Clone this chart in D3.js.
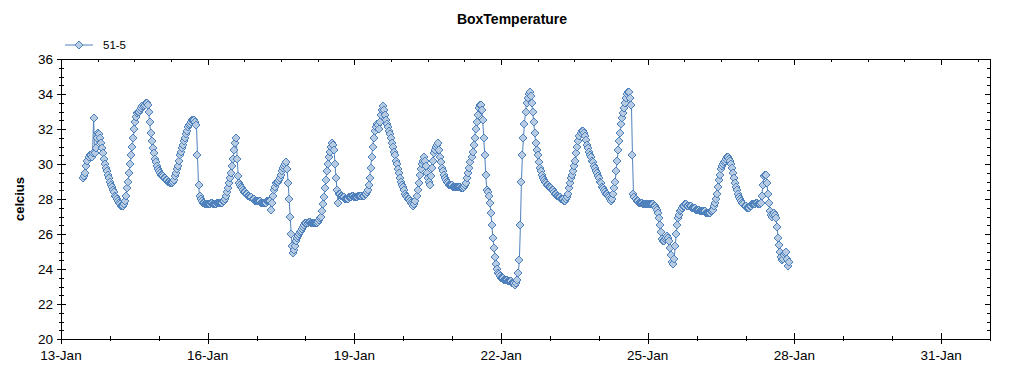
<!DOCTYPE html>
<html>
<head>
<meta charset="utf-8">
<script src="https://cdn.jsdelivr.net/npm/d3@7"></script>
<style>
  body { margin: 0; background: #fff; }
  text { font-family: "Liberation Sans", Arial, sans-serif; }
</style>
</head>
<body>
<div id="chart-area"></div>
<script>
// Half-hourly readings of sensor 51-5, one array per day (°C)
// jan13 starts at 11:00, all others at 00:00
const seriesName = "51-5";
const dayStarts = ["2011-01-13T11:00", "2011-01-14T00:00", "2011-01-15T00:00", "2011-01-16T00:00",
  "2011-01-17T00:00", "2011-01-18T00:00", "2011-01-19T00:00", "2011-01-20T00:00", "2011-01-21T00:00",
  "2011-01-22T00:00", "2011-01-23T00:00", "2011-01-24T00:00", "2011-01-25T00:00", "2011-01-26T00:00",
  "2011-01-27T00:00"];

const jan13 = [29.2, 29.3, 29.5, 29.9, 30.2, 30.4, 30.5, 30.5, 30.4, 30.6, 32.6, 30.6,
  30.9, 31.5, 31.8, 31.7, 31.5, 31.2, 30.9, 30.6, 30.3, 30.0, 29.8, 29.6, 29.4, 29.2];
const jan14 = [29.0, 28.8, 28.7, 28.5, 28.4, 28.2, 28.1, 28.0, 27.9, 27.8, 27.7, 27.6,
  27.6, 27.6, 27.7, 27.9, 28.2, 28.6, 29.0, 29.5, 30.0, 30.5, 31.0, 31.5,
  32.0, 32.4, 32.7, 32.9, 33.0, 33.0, 33.1, 33.2, 33.3, 33.3, 33.4, 33.5,
  33.5, 33.4, 33.0, 32.4, 31.8, 31.3, 30.9, 30.6, 30.3, 30.1, 29.9, 29.7];
const jan15 = [29.6, 29.5, 29.4, 29.4, 29.3, 29.2, 29.2, 29.1, 29.1, 29.0, 29.0, 28.9,
  28.9, 28.9, 29.0, 29.1, 29.3, 29.5, 29.7, 29.9, 30.2, 30.5, 30.7, 30.9,
  31.1, 31.3, 31.5, 31.7, 31.9, 32.1, 32.2, 32.3, 32.4, 32.5, 32.5, 32.5,
  32.4, 32.2, 30.5, 28.8, 28.2, 28.0, 27.9, 27.8, 27.8, 27.7, 27.7, 27.7];
const jan16 = [27.7, 27.7, 27.7, 27.8, 27.8, 27.7, 27.7, 27.7, 27.7, 27.8, 27.8, 27.8,
  27.8, 27.8, 27.8, 27.9, 27.9, 28.0, 28.2, 28.4, 28.6, 28.9, 29.2, 29.5,
  29.9, 30.3, 30.8, 31.2, 31.5, 30.3, 29.3, 28.9, 28.8, 28.7, 28.6, 28.5,
  28.4, 28.4, 28.3, 28.3, 28.2, 28.2, 28.1, 28.1, 28.0, 28.0, 27.9, 27.9];
const jan17 = [27.9, 27.9, 27.9, 27.9, 27.8, 27.8, 27.8, 27.8, 27.8, 27.8, 27.9, 27.9,
  27.9, 27.9, 27.4, 27.8, 28.2, 28.5, 28.7, 28.9, 29.0, 29.0, 29.1, 29.2,
  29.4, 29.6, 29.8, 29.9, 30.0, 30.1, 29.7, 28.9, 28.0, 27.0, 26.0, 25.3,
  24.9, 25.1, 25.3, 25.6, 25.8, 25.9, 26.0, 26.1, 26.2, 26.3, 26.4, 26.5];
const jan18 = [26.6, 26.6, 26.6, 26.7, 26.7, 26.6, 26.6, 26.6, 26.6, 26.6, 26.6, 26.6,
  26.7, 26.8, 26.9, 27.0, 27.3, 27.7, 28.1, 28.6, 29.1, 29.6, 30.0, 30.4,
  30.7, 31.0, 31.2, 31.1, 30.8, 30.0, 29.2, 28.5, 27.8, 28.3, 28.3, 28.2,
  28.2, 28.1, 28.1, 28.0, 28.0, 28.0, 28.0, 28.1, 28.1, 28.1, 28.2, 28.2];
const jan19 = [28.1, 28.1, 28.1, 28.1, 28.2, 28.2, 28.2, 28.2, 28.2, 28.2, 28.3, 28.3,
  28.4, 28.5, 28.8, 29.2, 29.8, 30.4, 31.0, 31.5, 31.9, 32.1, 32.3, 32.2,
  32.0, 32.4, 32.8, 33.1, 33.3, 33.1, 32.8, 32.5, 32.3, 32.1, 31.9, 31.7,
  31.5, 31.2, 31.0, 30.7, 30.5, 30.2, 30.0, 29.7, 29.5, 29.2, 29.0, 28.8];
const jan20 = [28.7, 28.5, 28.3, 28.2, 28.1, 28.0, 28.0, 27.9, 27.8, 27.7, 27.6, 27.7,
  27.9, 28.2, 28.5, 28.9, 29.4, 29.7, 30.0, 30.2, 30.4, 30.2, 29.9, 29.5,
  29.2, 29.0, 28.8, 29.3, 29.8, 30.2, 30.6, 30.8, 31.0, 31.1, 31.2, 30.8,
  30.4, 30.1, 29.8, 29.6, 29.4, 29.2, 29.1, 29.0, 28.9, 28.8, 28.8, 28.8];
const jan21 = [28.8, 28.7, 28.7, 28.7, 28.7, 28.7, 28.7, 28.7, 28.7, 28.6, 28.6, 28.6,
  28.7, 28.8, 28.9, 29.2, 29.5, 29.8, 30.1, 30.4, 30.7, 31.1, 31.5, 32.0,
  32.4, 32.8, 33.2, 33.4, 33.4, 33.1, 32.5, 31.5, 30.5, 29.4, 28.5, 28.4,
  28.2, 27.8, 27.2, 26.5, 25.8, 25.2, 24.7, 24.3, 24.0, 23.8, 23.7, 23.6];
const jan22 = [23.5, 23.5, 23.5, 23.4, 23.4, 23.4, 23.4, 23.3, 23.3, 23.3, 23.3, 23.2,
  23.2, 23.2, 23.1, 23.2, 23.4, 23.8, 24.5, 26.5, 29.0, 30.5, 31.5, 32.3,
  33.0, 33.5, 33.8, 34.0, 34.1, 33.9, 33.5, 33.0, 32.4, 31.8, 31.2, 30.8,
  30.5, 30.1, 29.8, 29.6, 29.4, 29.2, 29.1, 29.0, 28.9, 28.8, 28.8, 28.7];
const jan23 = [28.7, 28.6, 28.5, 28.5, 28.4, 28.3, 28.3, 28.2, 28.2, 28.1, 28.1, 28.0,
  28.0, 28.0, 27.9, 27.9, 28.0, 28.1, 28.3, 28.6, 28.9, 29.2, 29.4, 29.6,
  29.9, 30.2, 30.6, 31.0, 31.3, 31.6, 31.8, 31.9, 31.9, 31.8, 31.6, 31.4,
  31.1, 30.9, 30.7, 30.5, 30.4, 30.2, 30.1, 29.9, 29.8, 29.6, 29.5, 29.3];
const jan24 = [29.2, 29.0, 28.9, 28.7, 28.6, 28.5, 28.4, 28.3, 28.3, 28.2, 28.1, 28.0,
  27.9, 28.0, 28.3, 28.6, 29.0, 29.6, 30.2, 30.8, 31.3, 31.8, 32.3, 32.6,
  32.9, 33.2, 33.5, 33.8, 34.0, 34.1, 34.1, 33.8, 33.4, 30.5, 28.3, 28.1,
  28.0, 27.9, 27.9, 27.8, 27.8, 27.8, 27.8, 27.7, 27.7, 27.7, 27.7, 27.7];
const jan25 = [27.7, 27.7, 27.7, 27.7, 27.7, 27.7, 27.6, 27.6, 27.5, 27.4, 27.2, 26.9,
  26.5, 26.1, 25.7, 25.6, 25.6, 25.7, 25.8, 25.9, 25.8, 25.6, 25.2, 24.8,
  24.4, 24.3, 24.6, 25.3, 26.0, 26.5, 26.9, 27.1, 27.3, 27.4, 27.5, 27.6,
  27.6, 27.7, 27.7, 27.6, 27.6, 27.6, 27.6, 27.5, 27.5, 27.5, 27.5, 27.4];
const jan26 = [27.4, 27.4, 27.4, 27.3, 27.3, 27.3, 27.3, 27.3, 27.3, 27.2, 27.2, 27.2,
  27.2, 27.2, 27.3, 27.3, 27.4, 27.6, 27.8, 28.0, 28.3, 28.7, 29.1, 29.4,
  29.7, 29.9, 30.0, 30.1, 30.2, 30.3, 30.4, 30.4, 30.3, 30.2, 30.0, 29.8,
  29.5, 29.2, 28.9, 28.7, 28.5, 28.3, 28.1, 28.0, 27.9, 27.8, 27.7, 27.6];
const jan27 = [27.6, 27.5, 27.5, 27.5, 27.6, 27.6, 27.7, 27.7, 27.7, 27.7, 27.8, 27.8,
  27.7, 27.7, 27.7, 27.8, 28.2, 28.8, 29.3, 29.4, 29.4, 28.9, 28.3, 27.8,
  27.3, 27.1, 27.0, 27.1, 27.2, 27.1, 26.9, 26.4, 25.8, 25.4, 25.0, 24.7,
  24.5, 24.6, 24.8, 24.9, 25.0, 24.6, 24.2, 24.4];

const dayValues = [jan13, jan14, jan15, jan16, jan17, jan18, jan19, jan20, jan21,
  jan22, jan23, jan24, jan25, jan26, jan27];

const xTickLabels = ["13-Jan", "16-Jan", "19-Jan", "22-Jan", "25-Jan", "28-Jan", "31-Jan"];
const yTicks = [20, 22, 24, 26, 28, 30, 32, 34, 36];

const parseTime = d3.timeParse("%Y-%m-%dT%H:%M");
const HOUR = 3600 * 1000;
const STEP = HOUR / 2;

// flatten to {t, v}
let readings = [];
dayValues.forEach((vals, i) => {
  const t0 = parseTime(dayStarts[i]).getTime();
  vals.forEach((v, j) => readings.push({ t: new Date(t0 + j * STEP), v: v }));
});

const width = 1024, height = 375;
const margin = { left: 61, right: 34, top: 59, bottom: 36 };

const svg = d3.select("#chart-area").append("svg")
  .attr("width", width)
  .attr("height", height);

const x = d3.scaleTime()
  .domain([parseTime("2011-01-13T00:00"), parseTime("2011-02-01T00:00")])
  .range([margin.left, width - margin.right]);

const y = d3.scaleLinear()
  .domain([20, 36])
  .range([height - margin.bottom, margin.top]);

const x0 = x.range()[0], x1 = x.range()[1];
const y0 = y.range()[0], y1 = y.range()[1];

// title and axis label
svg.append("text")
  .attr("x", 512).attr("y", 24)
  .attr("text-anchor", "middle")
  .attr("font-weight", "bold")
  .attr("font-size", 14)
  .text("BoxTemperature");

svg.append("text")
  .attr("transform", `translate(24,${(y0 + y1) / 2}) rotate(-90)`)
  .attr("text-anchor", "middle")
  .attr("font-weight", "bold")
  .attr("font-size", 13)
  .text("celcius");

// frame
const axes = svg.append("g").attr("stroke", "black").attr("stroke-width", 1).attr("shape-rendering", "crispEdges");
axes.append("rect")
  .attr("x", x0).attr("y", y1)
  .attr("width", x1 - x0).attr("height", y0 - y1)
  .attr("fill", "none");

// y ticks: major every 2, minor every 0.5
const yMinor = d3.range(20, 36.01, 0.5);
yMinor.forEach(v => {
  const major = yTicks.includes(v);
  const yy = Math.round(y(v)) + 0.5;
  axes.append("line").attr("x1", major ? x0 - 4 : x0 - 2).attr("x2", major ? x0 + 5 : x0 + 3)
    .attr("y1", yy).attr("y2", yy);
  axes.append("line").attr("x1", x1 - (major ? 5 : 3)).attr("x2", x1)
    .attr("y1", yy).attr("y2", yy);
});

svg.append("g").selectAll("text")
  .data(yTicks)
  .join("text")
  .attr("x", x0 - 8)
  .attr("y", d => y(d))
  .attr("dy", "0.36em")
  .attr("text-anchor", "end")
  .attr("font-size", 13.5)
  .text(d => d);

// x ticks: bottom minor every day, major every 3 days; top minor every 18h
const days = d3.timeDay.range(x.domain()[0], d3.timeHour.offset(x.domain()[1], 1));
days.forEach((d, i) => {
  const xx = Math.round(x(d)) + 0.5;
  const major = i % 3 === 0;
  axes.append("line").attr("x1", xx).attr("x2", xx)
    .attr("y1", major ? y0 - 6 : y0 - 3).attr("y2", major ? y0 + 5 : y0 + 2);
});
const topTicks = d3.range(0, 19 * 24 + 1, 18);
topTicks.forEach((h, i) => {
  const xx = Math.round(x(new Date(x.domain()[0].getTime() + h * HOUR))) + 0.5;
  const major = i % 4 === 0;
  axes.append("line").attr("x1", xx).attr("x2", xx)
    .attr("y1", y1).attr("y2", y1 + (major ? 6 : 3));
});

svg.append("g").selectAll("text")
  .data(days.filter((d, i) => i % 3 === 0))
  .join("text")
  .attr("x", d => x(d))
  .attr("y", y0 + 21)
  .attr("text-anchor", "middle")
  .attr("font-size", 13.5)
  .text((d, i) => xTickLabels[i]);

// series
const lineColor = "#4f81bd", markFill = "#b7cce2";
const diamond = "M0,-4L4,0L0,4L-4,0Z";

const line = d3.line().x(d => x(d.t)).y(d => y(d.v));
svg.append("path")
  .datum(readings)
  .attr("fill", "none")
  .attr("stroke", lineColor)
  .attr("stroke-width", 1)
  .attr("d", line);

svg.append("g").selectAll("path")
  .data(readings)
  .join("path")
  .attr("transform", d => `translate(${Math.round(x(d.t))},${Math.round(y(d.v))})`)
  .attr("d", diamond)
  .attr("fill", markFill)
  .attr("stroke", lineColor)
  .attr("stroke-width", 1.2)
  .attr("shape-rendering", "crispEdges");

// legend
const lg = svg.append("g").attr("transform", "translate(65,45)");
lg.append("line").attr("x1", 0).attr("x2", 28).attr("y1", 0).attr("y2", 0)
  .attr("stroke", lineColor).attr("stroke-width", 1);
lg.append("path").attr("d", diamond).attr("transform", "translate(14,0)")
  .attr("fill", markFill).attr("stroke", lineColor).attr("shape-rendering", "crispEdges");
lg.append("text").attr("x", 38).attr("y", 0).attr("dy", "0.35em")
  .attr("font-size", 11.5).text(seriesName);
</script>
</body>
</html>
